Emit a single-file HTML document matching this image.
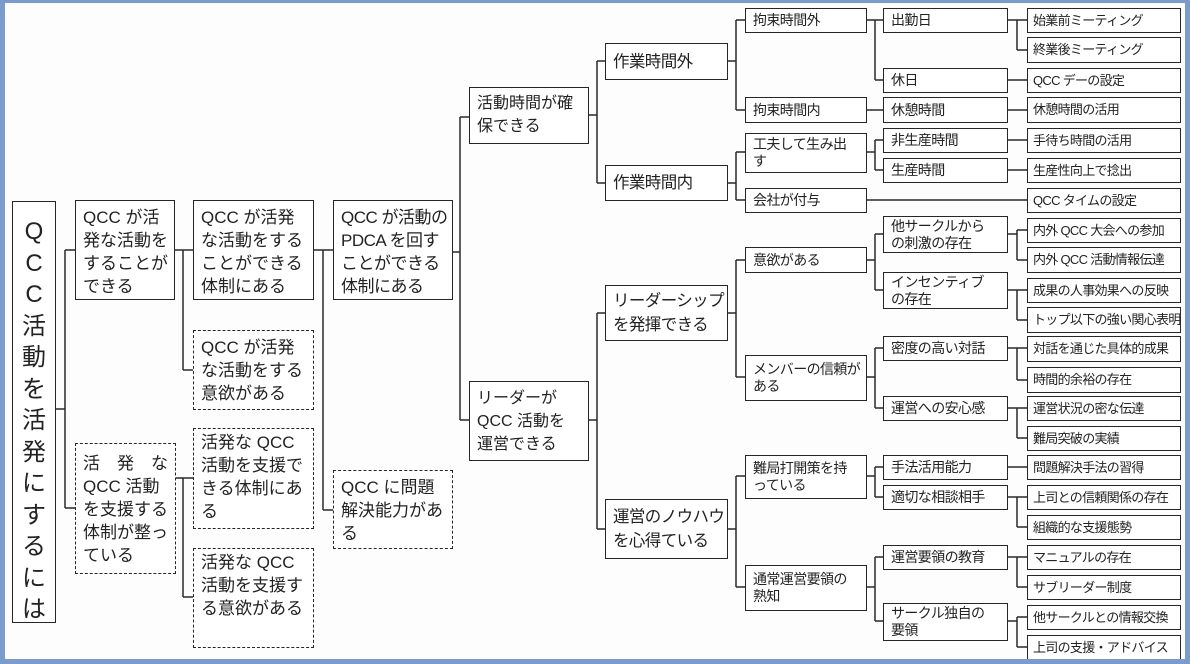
<!DOCTYPE html>
<html><head><meta charset="utf-8"><style>
html,body{margin:0;padding:0;background:#fff}
#p{position:relative;width:1190px;height:664px;overflow:hidden;background:#fdfdfd;font-family:"Liberation Sans","Noto Sans CJK JP",sans-serif;color:#222}
#fr{position:absolute;left:0;top:0;width:1190px;height:664px;box-sizing:border-box;border-style:solid;border-color:#7b9bcc;border-width:3px 5px 5px 5px;z-index:5}
.b{position:absolute;box-sizing:border-box;border:1.6px solid #262626;background:#fff;padding:2px 6px;white-space:nowrap;overflow:hidden}
.d{border-style:dashed}
.m{font-size:17px;line-height:23px;padding:5px 7px}
.e{font-size:16.5px;line-height:24px;display:flex;align-items:center;padding-left:7px;letter-spacing:-0.6px}
.f{font-size:14px;line-height:17px;display:flex;align-items:center;padding-left:7px;letter-spacing:-0.6px}
.h{font-size:13px;line-height:16px;display:flex;align-items:center;padding-left:5px;letter-spacing:-0.7px}
svg{position:absolute;left:0;top:0}
</style></head><body><div id="p">
<svg width="1190" height="664"><g stroke="#2a2a2a" stroke-width="1.5" fill="none">
<path d="M55 409H65M65 250V508M65 250H75M65 508H75"/>
<path d="M174 250H183M183 250V370M183 250H193M183 370H193"/>
<path d="M175 478H183M183 478V597M183 478H193M183 597H193"/>
<path d="M313 250H323M323 250V510M323 250H333M323 510H333"/>
<path d="M452 252H460M460 117V420M460 117H469M460 420H469"/>
<path d="M588 115H597M597 61V183M597 61H605M597 183H605"/>
<path d="M588 420H597M597 313V529M597 313H605M597 529H605"/>
<path d="M727 61H736M736 20V110M736 20H745M736 110H745"/>
<path d="M727 183H736M736 152V200M736 152H745M736 200H745"/>
<path d="M727 313H736M736 260V377M736 260H745M736 377H745"/>
<path d="M727 529H736M736 476V587M736 476H745M736 587H745"/>
<path d="M866 20H875M875 20V80M875 20H883M875 80H883"/>
<path d="M866 110H883"/>
<path d="M866 152H875M875 140V170M875 140H883M875 170H883"/>
<path d="M866 200H1027"/>
<path d="M866 260H875M875 234V290M875 234H883M875 290H883"/>
<path d="M866 377H875M875 348V408M875 348H883M875 408H883"/>
<path d="M866 476H875M875 467V497M875 467H883M875 497H883"/>
<path d="M866 587H875M875 557V621M875 557H883M875 621H883"/>
<path d="M1007 20H1017M1017 20V50M1017 20H1027M1017 50H1027"/>
<path d="M1007 80H1027M1007 110H1027M1007 140H1027M1007 170H1027"/>
<path d="M1007 234H1017M1017 230V260M1017 230H1027M1017 260H1027"/>
<path d="M1007 290H1017M1017 290V320M1017 290H1027M1017 320H1027"/>
<path d="M1007 348H1017M1017 348V380M1017 348H1027M1017 380H1027"/>
<path d="M1007 408H1017M1017 408V438M1017 408H1027M1017 438H1027"/>
<path d="M1007 467H1027"/>
<path d="M1007 497H1017M1017 497V527M1017 497H1027M1017 527H1027"/>
<path d="M1007 557H1017M1017 557V587M1017 557H1027M1017 587H1027"/>
<path d="M1007 621H1017M1017 617V647M1017 617H1027M1017 647H1027"/>
</g></svg>

<div class="b" style="left:12px;top:201px;width:44px;height:422px;font-size:24px;line-height:31.5px;text-align:center;padding:14px 0;white-space:normal">Q<br>C<br>C<br>活<br>動<br>を<br>活<br>発<br>に<br>す<br>る<br>に<br>は</div>

<div class="b m" style="left:75px;top:200px;width:100px;height:100px">QCC が活<br>発な活動を<br>することが<br>できる</div>
<div class="b m d" style="left:75px;top:443px;width:101px;height:131px;padding-top:8px">活　発　な<br>QCC 活動<br>を支援する<br>体制が整っ<br>ている</div>

<div class="b m" style="left:193px;top:200px;width:121px;height:100px">QCC が活発<br>な活動をする<br>ことができる<br>体制にある</div>
<div class="b m d" style="left:193px;top:330px;width:121px;height:80px;padding-top:5px">QCC が活発<br>な活動をする<br>意欲がある</div>
<div class="b m d" style="left:193px;top:428px;width:121px;height:101px;padding-top:2px">活発な QCC<br>活動を支援で<br>きる体制にあ<br>る</div>
<div class="b m d" style="left:193px;top:548px;width:121px;height:100px;padding-top:2px">活発な QCC<br>活動を支援す<br>る意欲がある</div>

<div class="b m" style="left:333px;top:200px;width:120px;height:100px;letter-spacing:-0.5px">QCC が活動の<br>PDCA を回す<br>ことができる<br>体制にある</div>
<div class="b m d" style="left:333px;top:470px;width:120px;height:79px">QCC に問題<br>解決能力があ<br>る</div>

<div class="b m" style="left:469px;top:87px;width:120px;height:57px;font-size:16px;padding-top:4px">活動時間が確<br>保できる</div>
<div class="b m" style="left:469px;top:381px;width:120px;height:80px;font-size:16px;padding-top:5px">リーダーが<br>QCC 活動を<br>運営できる</div>

<div class="b e" style="left:605px;top:43px;width:123px;height:37px">作業時間外</div>
<div class="b e" style="left:605px;top:165px;width:123px;height:36px">作業時間内</div>
<div class="b e" style="left:605px;top:285px;width:123px;height:56px">リーダーシップ<br>を発揮できる</div>
<div class="b e" style="left:605px;top:499px;width:123px;height:60px">運営のノウハウ<br>を心得ている</div>

<div class="b f" style="left:745px;top:8px;width:122px;height:25px">拘束時間外</div>
<div class="b f" style="left:745px;top:97px;width:122px;height:26px">拘束時間内</div>
<div class="b f" style="left:745px;top:133px;width:122px;height:40px">工夫して生み出<br>す</div>
<div class="b f" style="left:745px;top:188px;width:122px;height:25px">会社が付与</div>
<div class="b f" style="left:745px;top:247px;width:122px;height:26px">意欲がある</div>
<div class="b f" style="left:745px;top:355px;width:122px;height:46px">メンバーの信頼が<br>ある</div>
<div class="b f" style="left:745px;top:455px;width:122px;height:44px">難局打開策を持<br>っている</div>
<div class="b f" style="left:745px;top:565px;width:122px;height:46px">通常運営要領の<br>熟知</div>

<div class="b f" style="left:883px;top:8px;width:125px;height:25px">出勤日</div>
<div class="b f" style="left:883px;top:68px;width:125px;height:25px">休日</div>
<div class="b f" style="left:883px;top:97px;width:125px;height:26px">休憩時間</div>
<div class="b f" style="left:883px;top:128px;width:125px;height:25px">非生産時間</div>
<div class="b f" style="left:883px;top:158px;width:125px;height:25px">生産時間</div>
<div class="b f" style="left:883px;top:216px;width:125px;height:37px">他サークルから<br>の刺激の存在</div>
<div class="b f" style="left:883px;top:272px;width:125px;height:37px">インセンティブ<br>の存在</div>
<div class="b f" style="left:883px;top:336px;width:125px;height:25px">密度の高い対話</div>
<div class="b f" style="left:883px;top:396px;width:125px;height:25px">運営への安心感</div>
<div class="b f" style="left:883px;top:455px;width:125px;height:25px">手法活用能力</div>
<div class="b f" style="left:883px;top:485px;width:125px;height:25px">適切な相談相手</div>
<div class="b f" style="left:883px;top:545px;width:125px;height:25px">運営要領の教育</div>
<div class="b f" style="left:883px;top:603px;width:125px;height:38px">サークル独自の<br>要領</div>

<div class="b h" style="left:1027px;top:8px;width:154px;height:25px">始業前ミーティング</div>
<div class="b h" style="left:1027px;top:37px;width:154px;height:26px">終業後ミーティング</div>
<div class="b h" style="left:1027px;top:68px;width:154px;height:25px">QCC デーの設定</div>
<div class="b h" style="left:1027px;top:97px;width:154px;height:26px">休憩時間の活用</div>
<div class="b h" style="left:1027px;top:128px;width:154px;height:25px">手待ち時間の活用</div>
<div class="b h" style="left:1027px;top:158px;width:154px;height:25px">生産性向上で捻出</div>
<div class="b h" style="left:1027px;top:188px;width:154px;height:25px">QCC タイムの設定</div>
<div class="b h" style="left:1027px;top:218px;width:154px;height:25px">内外 QCC 大会への参加</div>
<div class="b h" style="left:1027px;top:247px;width:154px;height:26px">内外 QCC 活動情報伝達</div>
<div class="b h" style="left:1027px;top:278px;width:154px;height:25px">成果の人事効果への反映</div>
<div class="b h" style="left:1027px;top:307px;width:154px;height:26px">トップ以下の強い関心表明</div>
<div class="b h" style="left:1027px;top:336px;width:154px;height:26px">対話を通じた具体的成果</div>
<div class="b h" style="left:1027px;top:367px;width:154px;height:26px">時間的余裕の存在</div>
<div class="b h" style="left:1027px;top:396px;width:154px;height:25px">運営状況の密な伝達</div>
<div class="b h" style="left:1027px;top:426px;width:154px;height:25px">難局突破の実績</div>
<div class="b h" style="left:1027px;top:455px;width:154px;height:25px">問題解決手法の習得</div>
<div class="b h" style="left:1027px;top:485px;width:154px;height:25px">上司との信頼関係の存在</div>
<div class="b h" style="left:1027px;top:515px;width:154px;height:25px">組織的な支援態勢</div>
<div class="b h" style="left:1027px;top:545px;width:154px;height:25px">マニュアルの存在</div>
<div class="b h" style="left:1027px;top:575px;width:154px;height:25px">サブリーダー制度</div>
<div class="b h" style="left:1027px;top:605px;width:154px;height:25px">他サークルとの情報交換</div>
<div class="b h" style="left:1027px;top:635px;width:154px;height:25px">上司の支援・アドバイス</div>
<div id="fr"></div>
</div></body></html>
